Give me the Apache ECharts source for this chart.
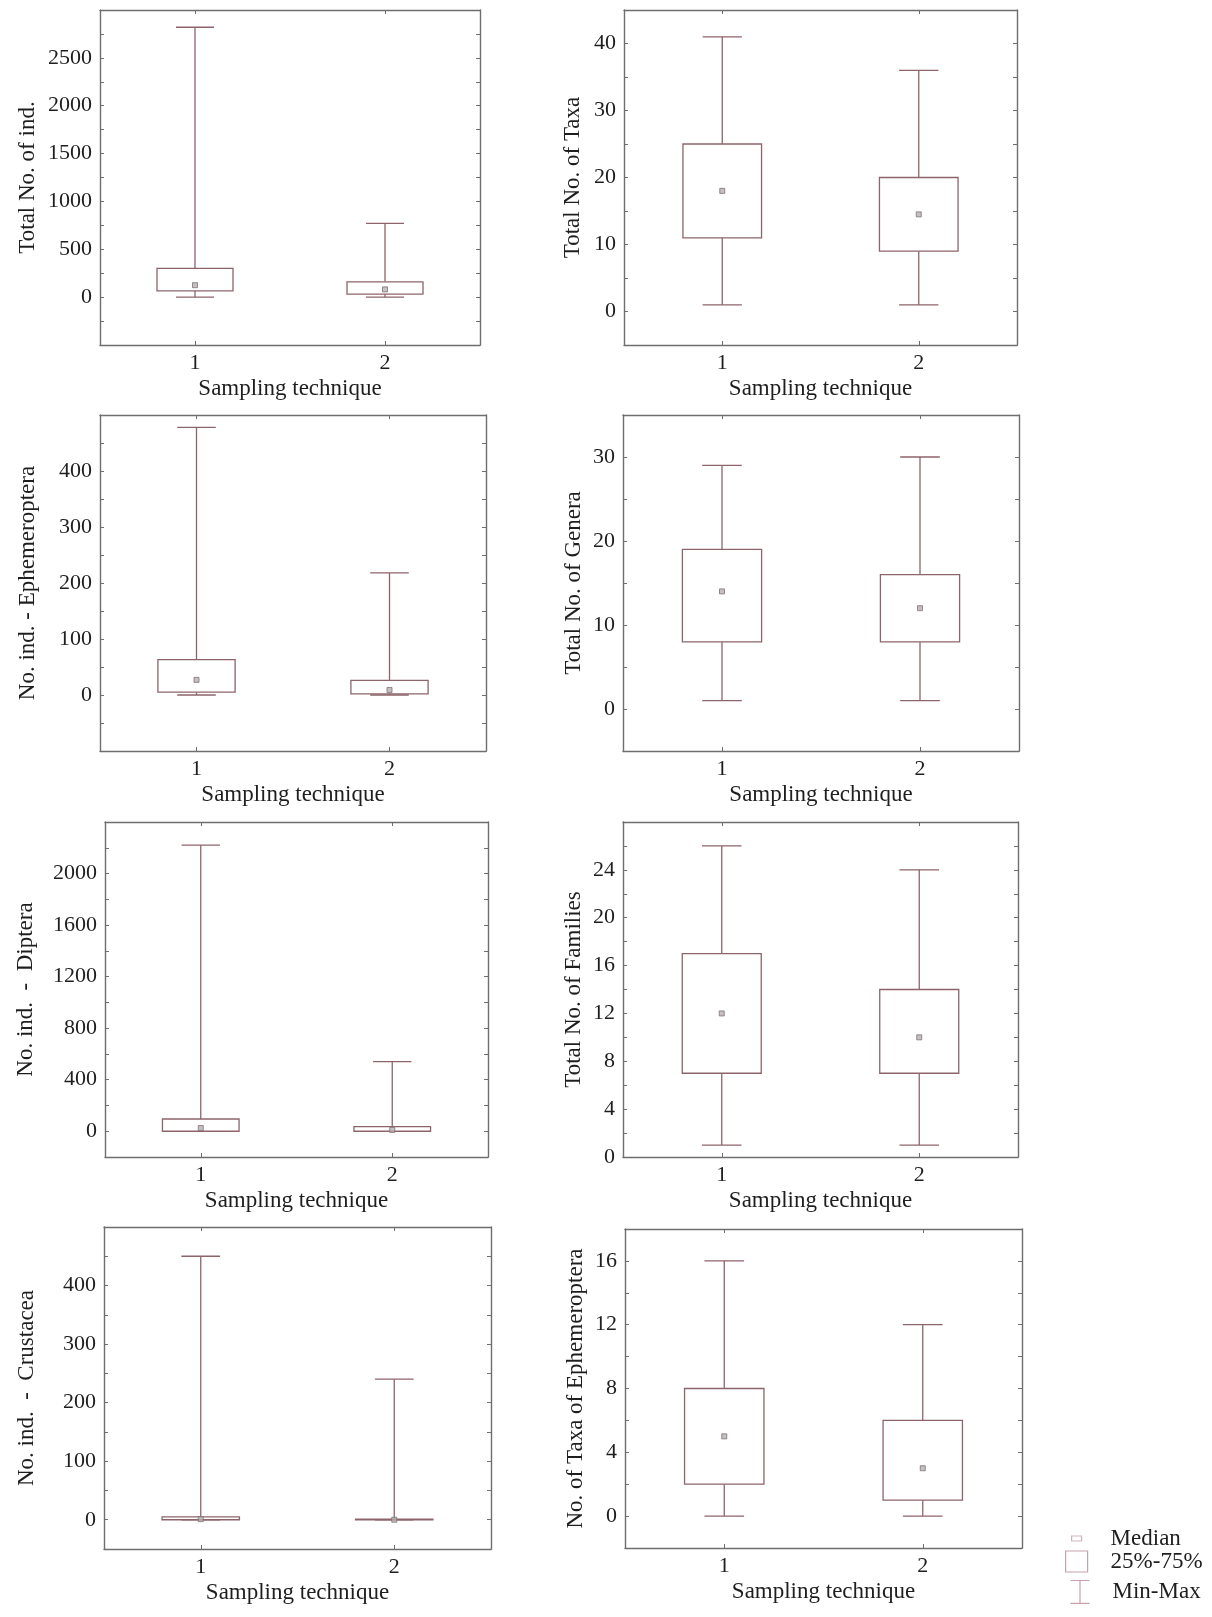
<!DOCTYPE html>
<html><head><meta charset="utf-8">
<script src="https://cdn.jsdelivr.net/npm/echarts@6/dist/echarts.min.js"></script>
<style>html,body{margin:0;padding:0;background:#fff}#chart{width:1212px;height:1617px}</style>
</head><body><div id="chart"></div>
<script>
// categories of the x axis
const categories = ['1', '2'];
// values per technique: [min, q1 (25%), median, q3 (75%), max]
const totalInd = [[0, 65, 125, 300, 2820], [0, 32, 81, 160, 770]];
const totalTaxa = [[1, 11, 18, 25, 41], [1, 9, 14.5, 20, 36]];
const indEphemeroptera = [[0, 5, 27, 63, 478], [0, 2, 9, 26, 218]];
const totalGenera = [[1, 8, 14, 19, 29], [1, 8, 12, 16, 30]];
const indDiptera = [[0, 0, 25, 95, 2220], [0, 0, 10, 35, 540]];
const totalFamilies = [[1, 7, 12, 17, 26], [1, 7, 10, 14, 24]];
const indCrustacea = [[0, 0, 1, 5, 450], [0, 0, 0, 1, 240]];
const taxaEphemeroptera = [[0, 2, 5, 8, 16], [0, 1, 3, 6, 12]];

// tick labels shown on each y axis
const totalIndTicks = [0, 500, 1000, 1500, 2000, 2500];
const totalTaxaTicks = [0, 10, 20, 30, 40];
const indEphemeropteraTicks = [0, 100, 200, 300, 400];
const totalGeneraTicks = [0, 10, 20, 30];
const indDipteraTicks = [0, 400, 800, 1200, 1600, 2000];
const totalFamiliesTicks = [0, 4, 8, 12, 16, 20, 24];
const indCrustaceaTicks = [0, 100, 200, 300, 400];
const taxaEphemeropteraTicks = [0, 4, 8, 12, 16];

const FONT = '"Liberation Serif", "Times New Roman", serif';
const TEXT = '#1e1e1e';
const AXIS = '#6e6e6e';
const LINE = '#8d646a';
const FS = 22;
const NFS = 23;

const panels = [
  {data: totalInd, title: 'Total No. of ind.', ticks: totalIndTicks, min: -500, max: 3000, step: 250,
   grid: {left: 100, top: 10, width: 380, height: 335}, nameGap: 61},
  {data: totalTaxa, title: 'Total No. of Taxa', ticks: totalTaxaTicks, min: -5, max: 45, step: 5,
   grid: {left: 624, top: 10, width: 393, height: 335}, nameGap: 40},
  {data: indEphemeroptera, title: 'No. ind. - Ephemeroptera', ticks: indEphemeropteraTicks, min: -100, max: 500, step: 50,
   grid: {left: 100, top: 415, width: 386, height: 336}, nameGap: 61},
  {data: totalGenera, title: 'Total No. of Genera', ticks: totalGeneraTicks, min: -5, max: 35, step: 5,
   grid: {left: 623, top: 415, width: 396, height: 336}, nameGap: 38},
  {data: indDiptera, title: 'No. ind.  -  Diptera', ticks: indDipteraTicks, min: -200, max: 2400, step: 200,
   grid: {left: 105, top: 822, width: 383, height: 335}, nameGap: 68},
  {data: totalFamilies, title: 'Total No. of Families', ticks: totalFamiliesTicks, min: 0, max: 28, step: 2,
   grid: {left: 623, top: 822, width: 395, height: 335}, nameGap: 38},
  {data: indCrustacea, title: 'No. ind.  -  Crustacea', ticks: indCrustaceaTicks, min: -50, max: 500, step: 50,
   grid: {left: 104, top: 1227, width: 387, height: 322}, nameGap: 66},
  {data: taxaEphemeroptera, title: 'No. of Taxa of Ephemeroptera', ticks: taxaEphemeropteraTicks, min: -2, max: 18, step: 2,
   grid: {left: 625, top: 1229, width: 397, height: 319}, nameGap: 38}
];

function renderBox(params, api) {
  const x = api.value(0);
  const q1 = api.coord([x, api.value(2)]);
  const q3 = api.coord([x, api.value(4)]);
  const band = api.size([1, 0])[0];
  const w = band * 0.4;
  return {
    type: 'rect',
    shape: {x: q1[0] - w / 2, y: q3[1], width: w, height: Math.max(q1[1] - q3[1], 0.5)},
    style: {fill: '#ffffff', stroke: LINE, lineWidth: 1.3}
  };
}
function renderWhisker(params, api) {
  const x = api.value(0);
  const pMin = api.coord([x, api.value(1)]);
  const pQ1 = api.coord([x, api.value(2)]);
  const pQ3 = api.coord([x, api.value(4)]);
  const pMax = api.coord([x, api.value(5)]);
  const band = api.size([1, 0])[0];
  const c = band * 0.2 / 2;
  const st = {stroke: LINE, lineWidth: 1.3};
  return {type: 'group', children: [
    {type: 'line', shape: {x1: pMin[0], y1: pMin[1], x2: pQ1[0], y2: pQ1[1]}, style: st},
    {type: 'line', shape: {x1: pQ3[0], y1: pQ3[1], x2: pMax[0], y2: pMax[1]}, style: st},
    {type: 'line', shape: {x1: pMin[0] - c, y1: pMin[1], x2: pMin[0] + c, y2: pMin[1]}, style: st},
    {type: 'line', shape: {x1: pMax[0] - c, y1: pMax[1], x2: pMax[0] + c, y2: pMax[1]}, style: st}
  ]};
}

const grids = [], xAxes = [], yAxes = [], series = [];
panels.forEach((p, i) => {
  grids.push(Object.assign({containLabel: false}, p.grid));
  const tick = {show: true, inside: true, length: 4, lineStyle: {color: AXIS}};
  const line = {show: true, onZero: false, lineStyle: {color: AXIS, width: 1.4}};
  xAxes.push({
    type: 'category', gridIndex: i, data: categories, position: 'bottom',
    axisLine: line, axisTick: Object.assign({alignWithLabel: true}, tick),
    axisLabel: {color: TEXT, fontFamily: FONT, fontSize: FS, margin: 7},
    name: 'Sampling technique', nameLocation: 'middle', nameGap: 32,
    nameTextStyle: {color: TEXT, fontFamily: FONT, fontSize: NFS}
  });
  xAxes.push({
    type: 'category', gridIndex: i, data: categories, position: 'top',
    axisLine: line, axisTick: Object.assign({alignWithLabel: true}, tick),
    axisLabel: {show: false}
  });
  const fmt = v => {
    const r = Math.round(v * 1000) / 1000;
    return p.ticks.indexOf(r) >= 0 ? String(r) : '';
  };
  yAxes.push({
    type: 'value', gridIndex: i, min: p.min, max: p.max, interval: p.step, position: 'left',
    axisLine: line, axisTick: tick, splitLine: {show: false},
    axisLabel: {color: TEXT, fontFamily: FONT, fontSize: FS, margin: 8, formatter: fmt,
      showMinLabel: true, showMaxLabel: true},
    name: p.title, nameLocation: 'middle', nameGap: p.nameGap, nameRotate: 90,
    nameTextStyle: {color: TEXT, fontFamily: FONT, fontSize: NFS}
  });
  yAxes.push({
    type: 'value', gridIndex: i, min: p.min, max: p.max, interval: p.step, position: 'right',
    axisLine: line, axisTick: tick, splitLine: {show: false}, axisLabel: {show: false}
  });
  const boxData = p.data.map((d, j) => [j].concat(d));
  series.push({
    name: 'Min-Max', type: 'custom', xAxisIndex: i * 2, yAxisIndex: i * 2,
    renderItem: renderWhisker, data: boxData, encode: {x: 0, y: [1, 2, 3, 4, 5]},
    itemStyle: {color: LINE}, z: 2, silent: true
  });
  series.push({
    name: '25%-75%', type: 'custom', xAxisIndex: i * 2, yAxisIndex: i * 2,
    renderItem: renderBox, data: boxData, encode: {x: 0, y: [1, 2, 3, 4, 5]},
    itemStyle: {color: LINE}, z: 3, silent: true
  });
  series.push({
    name: 'Median', type: 'scatter', xAxisIndex: i * 2, yAxisIndex: i * 2,
    data: p.data.map((d, j) => [j, d[2]]), symbol: 'rect', symbolSize: [5, 5],
    itemStyle: {color: '#b8b0b2', borderColor: '#7d7276', borderWidth: 1}, z: 4, silent: true
  });
});

const legendText = {color: TEXT, fontFamily: FONT, fontSize: NFS};
const LEG = '#c6a3aa';
const option = {
  backgroundColor: '#ffffff',
  animation: false,
  grid: grids,
  xAxis: xAxes,
  yAxis: yAxes,
  series: series,
  legend: [
    {left: 1071, top: 1527, padding: 0, itemWidth: 10, itemHeight: 5, selectedMode: false,
     textStyle: Object.assign({padding: [0, 0, 0, 24]}, legendText),
     data: [{name: 'Median', icon: 'rect', itemStyle: {color: '#ffffff', borderColor: LEG, borderWidth: 1.2}}]},
    {left: 1065, top: 1550, padding: 0, itemWidth: 22, itemHeight: 21, selectedMode: false,
     textStyle: Object.assign({padding: [0, 0, 0, 18]}, legendText),
     data: [{name: '25%-75%', icon: 'rect', itemStyle: {color: '#ffffff', borderColor: LEG, borderWidth: 1.2}}]},
    {left: 1068, top: 1578, padding: 0, itemWidth: 19, itemHeight: 23, selectedMode: false,
     textStyle: Object.assign({padding: [0, 0, 0, 18]}, legendText),
     data: [{name: 'Min-Max', icon: 'path://M0,0L20,0M10,0L10,24M0,24L20,24',
             itemStyle: {color: 'none', borderColor: LEG, borderWidth: 1.2}}]}
  ]
};
const chart = echarts.init(document.getElementById('chart'), null, {renderer: 'canvas'});
chart.setOption(option);
</script>
</body></html>
